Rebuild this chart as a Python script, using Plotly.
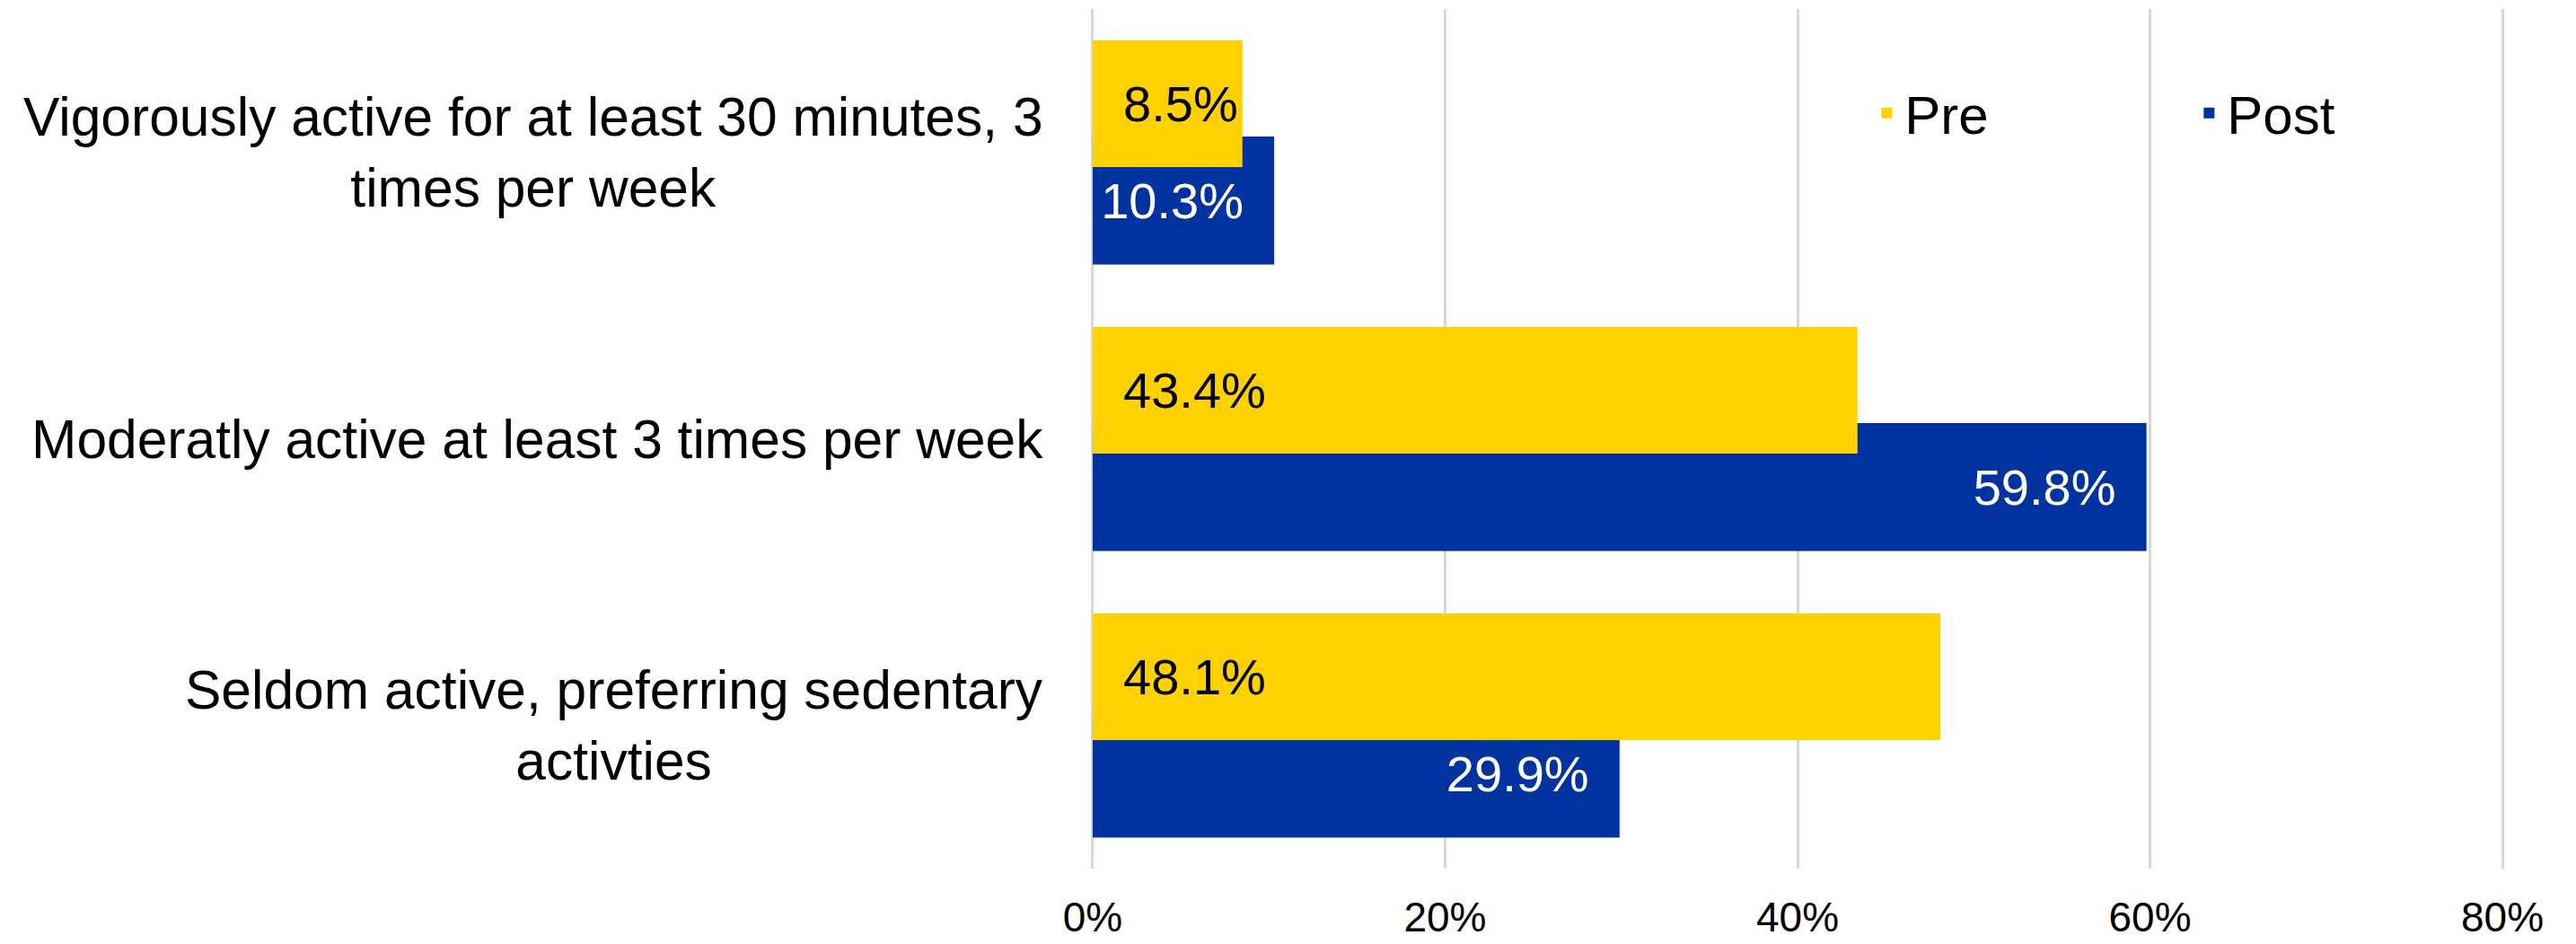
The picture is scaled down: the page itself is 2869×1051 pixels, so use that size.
import plotly.graph_objects as go

categories = [
    "Vigorously active for at least 30 minutes, 3<br>times per week",
    "Moderatly active at least 3 times per week",
    "Seldom active, preferring sedentary<br>activties",
]
pre_values = [8.5, 43.4, 48.1]
post_values = [10.3, 59.8, 29.9]
x_tick_vals = [0, 20, 40, 60, 80]
x_tick_text = ["0%", "20%", "40%", "60%", "80%"]

FONT = "Liberation Sans, Arial, Helvetica, sans-serif"
YELLOW = "#FFD100"
BLUE = "#0033A0"
NB = "\u00a0\u00a0"

fig = go.Figure()

# Post drawn first so Pre overlaps on top
fig.add_trace(go.Bar(
    name="Post", y=categories, x=post_values, orientation="h",
    marker=dict(color=BLUE, line=dict(width=0)),
    offset=-0.055, width=0.447,
    texttemplate="%{x:.1f}%" + NB, textposition="inside", insidetextanchor="end",
    constraintext="none",
    textfont=dict(color="white", size=56, family=FONT),
    legendrank=2,
))
fig.add_trace(go.Bar(
    name="Pre", y=categories, x=pre_values, orientation="h",
    marker=dict(color=YELLOW, line=dict(width=0)),
    offset=-0.39, width=0.442,
    texttemplate=NB + "%{x:.1f}%", textposition="inside", insidetextanchor="start",
    constraintext="none",
    textfont=dict(color="black", size=56, family=FONT),
    legendrank=1,
))

for cat in categories:
    fig.add_annotation(
        x=0, xref="paper", y=cat, yref="y", text=cat, showarrow=False,
        xanchor="right", yanchor="middle", align="center", xshift=-50,
        font=dict(size=60.5, color="black", family=FONT),
    )

fig.update_layout(
    width=2861, height=1043,
    margin=dict(l=1206, r=78, t=2, b=84, pad=0, autoexpand=False),
    paper_bgcolor="white", plot_bgcolor="white",
    barmode="overlay",
    font=dict(family=FONT, color="black"),
    legend=dict(
        orientation="h", x=0.55, xanchor="left", y=0.879, yanchor="middle",
        font=dict(size=60, color="black", family=FONT),
        entrywidth=314, entrywidthmode="pixels",
        bgcolor="rgba(0,0,0,0)", borderwidth=0,
        traceorder="normal",
    ),
    showlegend=True,
)
fig.update_xaxes(
    range=[-0.15, 80.2], tickvals=x_tick_vals, ticktext=x_tick_text,
    showgrid=True, gridcolor="#D9D9D9", gridwidth=3,
    zeroline=False, showline=False, ticks="",
    tickfont=dict(size=46, color="black", family=FONT),
    ticklabelstandoff=23, automargin=False,
)
fig.update_yaxes(
    type="category", categoryorder="array", categoryarray=categories,
    range=[2.5, -0.5], showgrid=False, zeroline=False, showline=False,
    showticklabels=False, ticks="", automargin=False,
)

fig.write_html("out.html")
